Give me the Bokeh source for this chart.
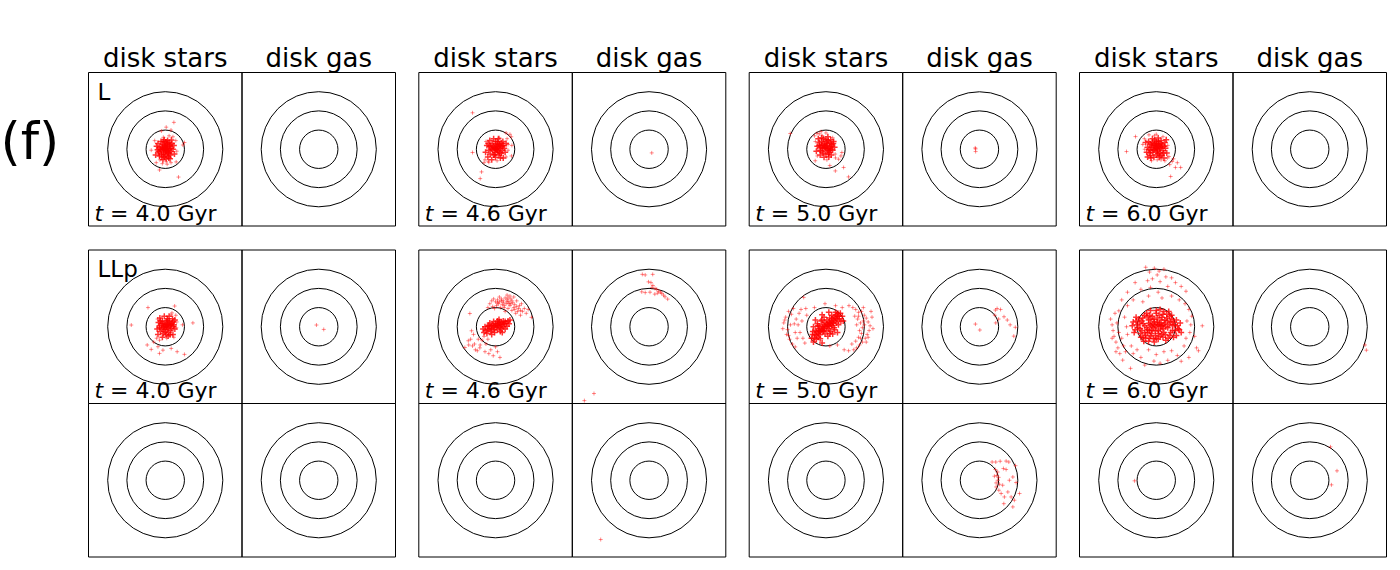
from bokeh.plotting import figure
from bokeh.models import Range1d
from bokeh.embed import file_html
from bokeh.resources import INLINE
from bokeh.core.properties import value

# ---------------- data (panel units: circles at r = 1, 2, 3) ----------------
TIMES = ["4.0", "4.6", "5.0", "6.0"]
COLUMN_TITLES = ["disk stars", "disk gas"]
ROW_LABELS = ["L", "LLp"]
RADII = [1.0, 2.0, 3.0]

# ---- row "L", disk stars: dense core + sparse halo
L40_CORE = [
    (0.00, 0.05), (0.10, 0.12), (-0.12, 0.02), (0.05, -0.10), (-0.05, 0.20), (0.18, -0.05), (-0.20, -0.08), (0.08, 0.28),
    (-0.15, 0.25), (0.25, 0.15), (-0.28, 0.10), (0.12, -0.22), (-0.08, -0.25), (0.30, -0.12), (-0.32, -0.20), (0.02, 0.38),
    (0.20, 0.35), (-0.22, 0.40), (0.35, 0.30), (-0.38, 0.30), (0.40, 0.00), (-0.40, -0.02), (0.15, -0.38), (-0.18, -0.40),
    (0.28, -0.30), (-0.30, -0.35), (0.05, -0.48), (-0.05, 0.50), (0.45, 0.20), (-0.45, 0.15), (0.00, -0.30), (0.22, 0.02),
    (-0.02, 0.12), (0.12, 0.45), (-0.12, -0.55), (0.32, 0.48), (0.48, -0.25), (-0.50, -0.30), (0.25, -0.50),
    (0.02, 0.00), (-0.03, 0.08), (0.08, 0.03), (-0.08, -0.02), (0.04, -0.05), (0.12, 0.20), (-0.15, 0.12), (0.15, -0.15),
    (-0.10, -0.15), (0.00, 0.18), (0.20, -0.20), (-0.25, 0.00), (0.10, 0.32), (-0.05, -0.40), (0.25, 0.25), (-0.20, -0.28),
    (0.30, 0.05), (-0.10, 0.40), (0.18, -0.45), (-0.35, -0.10),
]
L40_HALO = [
    (-0.28, -0.55), (0.05, -0.65), (0.55, 0.45), (-0.15, -0.75), (0.10, -0.78), (0.30, -0.70), (0.60, -0.10), (-0.55, 0.45),
    (0.40, 0.65), (0.20, 0.70), (-0.10, 0.62),
    (0.45, 1.40), (0.05, 1.15), (-0.20, 0.95), (0.30, 1.00), (1.00, 0.35), (0.92, 0.22), (-0.73, -0.05), (-0.30, -1.08),
    (0.69, -1.45), (-0.47, -0.70), (0.57, -0.66),
]
L46_CORE = [
    (0.05, 0.00), (0.15, 0.10), (-0.08, 0.08), (0.12, -0.12), (-0.15, -0.05), (0.25, 0.02), (-0.25, 0.12), (0.02, 0.25),
    (0.20, 0.28), (-0.18, 0.30), (0.35, 0.18), (-0.35, -0.05), (0.30, -0.22), (-0.05, -0.28), (-0.28, -0.25), (0.10, 0.40),
    (0.45, 0.05), (-0.45, 0.20), (0.00, -0.42), (0.38, 0.40), (-0.30, 0.45), (0.25, -0.45), (-0.40, -0.40), (0.50, -0.15),
    (0.55, 0.30), (-0.52, -0.15), (0.15, 0.55), (-0.10, 0.55), (0.40, -0.45), (-0.20, -0.55),
    (0.05, 0.12), (-0.02, -0.15), (0.18, -0.30), (-0.12, 0.18), (0.28, 0.15), (0.08, 0.05), (0.00, 0.02), (0.10, -0.05),
    (-0.05, 0.05), (0.22, 0.20), (-0.20, 0.00), (0.35, -0.05), (0.12, 0.28), (-0.10, -0.30), (0.30, 0.32), (-0.30, 0.15),
    (0.42, 0.20), (0.00, 0.40), (0.20, -0.18), (-0.38, 0.30),
]
L46_HALO = [
    (0.60, 0.55), (-0.50, 0.40), (0.08, -0.60), (-0.55, -0.55), (0.65, -0.05), (-0.60, -0.70), (0.55, -0.40), (0.20, 0.60),
    (-0.35, -0.68), (0.65, 0.25),
    (-1.20, 1.90), (-1.20, -0.17), (-0.73, -1.18), (-0.80, -1.53), (0.75, 0.78), (0.82, 0.65), (0.83, -0.35),
    (-0.38, -0.62), (0.55, 0.85), (0.85, 0.20),
]
L50_CORE = [
    (-0.05, 0.10), (0.05, 0.20), (-0.15, 0.05), (0.10, -0.05), (-0.10, 0.28), (0.22, 0.12), (-0.25, 0.18), (0.02, 0.38),
    (0.18, -0.15), (-0.20, -0.12), (0.30, 0.25), (-0.35, 0.35), (0.12, 0.45), (-0.30, -0.05), (0.35, -0.05), (-0.12, 0.55),
    (0.25, 0.50), (-0.40, 0.55), (0.00, -0.25), (-0.45, 0.15), (0.40, 0.40), (0.10, 0.65), (-0.50, -0.10),
    (0.28, -0.30), (-0.30, -0.30), (0.45, 0.10), (0.15, -0.40), (-0.10, -0.42),
    (-0.05, 0.05), (0.08, 0.30), (-0.22, 0.42), (0.20, 0.32), (0.00, 0.12), (0.05, 0.02), (-0.08, 0.18), (0.15, 0.05),
    (-0.18, 0.25), (0.25, 0.00), (-0.28, 0.08), (0.00, 0.50), (0.30, 0.15), (-0.15, -0.20), (0.12, -0.25), (-0.35, 0.20),
    (0.38, 0.30), (-0.22, 0.60), (0.20, -0.05),
]
L50_HALO = [
    (-0.20, 0.70), (-0.55, 0.40), (-0.35, 0.80), (0.00, 0.85), (-0.60, 0.70), (0.48, -0.25), (0.35, 0.60), (-0.45, -0.35),
    (0.05, -0.55), (0.50, -0.45), (-0.25, 0.92),
    (-1.86, 0.82), (0.83, -0.17), (0.66, -0.52), (0.49, -1.13), (1.18, -1.44), (0.92, -0.95), (-0.47, 0.83),
    (-0.56, -0.60), (0.78, -0.35), (0.20, -0.85),
]
L60_CORE = [
    (0.00, 0.05), (0.10, 0.15), (-0.10, 0.00), (0.08, -0.10), (-0.12, 0.20), (0.22, 0.05), (-0.22, 0.10), (0.02, 0.30),
    (0.18, -0.18), (-0.18, -0.15), (0.32, 0.22), (-0.32, 0.28), (0.12, 0.40), (-0.30, -0.05), (0.35, -0.08), (-0.08, 0.48),
    (0.25, 0.45), (-0.40, 0.40), (0.00, -0.30), (-0.45, 0.10), (0.45, 0.35), (-0.20, 0.55), (0.10, 0.58), (-0.50, -0.15),
    (0.30, -0.30), (-0.30, -0.32), (0.48, 0.05), (-0.55, 0.35), (0.15, -0.42), (-0.12, -0.42), (0.40, -0.45), (0.55, -0.20),
    (-0.45, -0.40), (0.52, 0.50), (-0.05, 0.12), (0.05, -0.02), (0.15, 0.28), (-0.20, 0.35), (0.28, 0.12), (-0.35, -0.20),
    (0.05, 0.05), (-0.02, 0.20), (0.18, 0.08), (-0.15, -0.05), (0.08, -0.22), (0.25, 0.30), (-0.25, 0.22), (0.38, -0.20),
    (-0.38, 0.00), (0.00, 0.40), (0.20, -0.35), (-0.10, 0.30), (0.42, 0.15), (-0.28, -0.45), (0.10, 0.25),
]
L60_HALO = [
    (0.05, -0.55), (0.45, -0.60), (-0.60, 0.00), (0.35, 0.65), (-0.25, -0.60), (0.60, 0.20), (-0.10, 0.70), (0.25, -0.55),
    (0.58, -0.45), (-0.62, 0.55),
    (0.75, -1.42), (1.00, -0.95), (1.27, -0.95), (0.83, -0.64), (0.66, -0.38), (1.10, -0.70), (-1.55, -0.12),
    (-1.08, 0.66), (-0.38, 0.75), (0.00, 0.78), (0.70, -0.80), (0.90, -0.50), (-0.70, 0.25),
]
# ---- row "L", disk gas
L40_GAS = []
L46_GAS = [(0.14, -0.19)]
L50_GAS = [(-0.20, 0.02), (-0.20, -0.12), (-0.22, 0.07)]
L60_GAS = []

# ---- row "LLp" (upper), disk stars
LLP40_CORE = [
    (0.05, 0.00), (0.15, 0.10), (-0.05, 0.08), (0.10, -0.12), (-0.10, -0.05), (0.25, 0.05), (-0.20, 0.15), (0.05, 0.25),
    (0.20, 0.30), (-0.15, 0.30), (0.35, 0.20), (-0.30, -0.05), (0.28, -0.20), (0.00, -0.28), (-0.25, -0.25), (0.12, 0.42),
    (0.42, 0.02), (-0.35, 0.22), (0.05, -0.42), (0.38, 0.42), (-0.28, 0.45), (0.25, -0.42), (-0.38, -0.40), (0.50, -0.12),
    (0.50, 0.35), (-0.42, -0.12), (0.20, 0.55), (-0.05, 0.55), (0.40, -0.40), (-0.15, -0.55),
    (0.10, 0.12), (-0.02, -0.15), (0.18, -0.30), (-0.12, 0.15), (0.30, 0.12), (0.08, 0.02), (0.00, 0.10), (0.15, -0.02),
    (-0.08, 0.00), (0.22, 0.18), (-0.18, -0.12), (0.32, -0.08), (0.10, 0.32), (-0.10, -0.35), (0.40, 0.28), (-0.25, 0.30),
    (0.45, 0.10), (0.15, -0.48), (-0.30, 0.05),
]
LLP40_HALO = [
    (0.55, 0.60), (0.35, 0.72), (0.08, -0.60), (-0.45, -0.60), (0.58, -0.05), (-0.30, -0.70), (0.45, -0.55), (0.30, 0.62),
    (-0.40, 0.40), (0.60, 0.25),
    (-0.90, 1.00), (0.49, 1.08), (-1.77, 0.09), (1.44, 0.20), (-0.94, -0.95), (-0.73, -1.18), (-0.30, -1.39),
    (-0.12, -1.22), (0.62, -1.30), (1.00, -1.44), (-0.38, -1.04), (0.31, -1.13), (0.90, 0.10), (-0.60, -0.80),
]
LLP46_CORE = [
    (0.05, 0.00), (0.15, 0.05), (-0.10, -0.02), (0.25, 0.10), (-0.20, -0.08), (0.35, 0.12), (-0.30, -0.10), (0.45, 0.15),
    (-0.40, -0.15), (0.00, 0.15), (0.10, -0.15), (0.20, 0.25), (-0.15, 0.12), (0.30, -0.08), (-0.25, -0.25), (0.55, 0.20),
    (-0.50, -0.20), (0.40, 0.30), (-0.35, 0.08), (0.10, 0.30), (-0.05, -0.30), (0.60, 0.02), (-0.55, 0.00), (0.25, -0.25),
    (0.50, -0.12), (-0.45, -0.35), (0.65, 0.30), (-0.60, -0.30), (0.18, 0.38), (-0.10, 0.28), (0.70, 0.15), (-0.65, -0.12),
    (0.35, -0.30), (-0.20, -0.40), (0.08, 0.08), (-0.02, 0.05), (0.22, -0.05), (0.42, 0.00), (-0.30, 0.20), (0.75, 0.35),
    (0.12, 0.18), (-0.08, -0.15), (0.30, 0.22), (-0.22, 0.05), (0.50, 0.28), (-0.40, 0.02),
]
LLP46_HALO = [
    (-0.30, 1.20), (-0.20, 1.35), (-0.10, 1.45), (0.00, 1.30), (0.10, 1.40), (0.20, 1.55), (0.30, 1.45), (0.40, 1.35),
    (0.50, 1.50), (0.60, 1.40), (0.70, 1.30), (0.80, 1.45), (0.90, 1.25), (1.00, 1.15), (1.10, 1.05), (1.20, 0.95),
    (1.30, 0.85), (1.40, 0.80), (1.50, 0.95), (1.60, 0.70), (0.15, 1.20), (0.35, 1.15), (0.55, 1.20), (0.75, 1.10),
    (0.95, 1.00), (1.15, 0.80), (0.25, 1.00), (0.45, 1.00), (0.65, 0.95), (0.85, 0.85), (1.05, 0.70), (1.25, 1.10),
    (0.05, 1.10), (-0.15, 1.05), (0.60, 1.65), (0.95, 1.55), (1.35, 1.20), (1.70, 0.90), (1.87, 0.49), (1.30, 0.60),
    (-0.40, 1.00), (0.50, 0.80), (0.75, 1.60), (1.10, 1.35), (-0.05, 0.95), (0.40, 1.25), (0.70, 1.20), (0.20, 1.30),
    (0.85, 1.35), (1.00, 0.90), (0.30, 1.35), (0.60, 1.30), (0.45, 1.10), (0.80, 1.20), (0.10, 1.25), (0.65, 1.50),
    (-1.60, -1.08), (-1.42, -0.73), (-1.30, -0.65), (-1.10, -0.90), (-0.95, -1.25), (-0.82, -1.10), (-0.55, -1.30),
    (-0.35, -1.40), (-0.12, -1.51), (0.23, -1.60), (-1.05, -1.20), (-0.80, -0.95), (-1.25, -0.21), (-1.15, -0.40),
    (-0.90, -0.65), (-0.70, -0.70), (-0.50, -0.90), (-1.20, -1.00), (-0.60, -0.50), (-0.40, -0.65), (-1.40, -0.95),
    (-0.25, -1.20), (0.00, -1.05), (-1.34, 0.69), (0.10, -1.30),
]
LLP50_CORE = [
    (0.00, 0.00), (0.10, 0.10), (-0.10, -0.08), (0.20, 0.18), (-0.20, -0.15), (0.30, 0.28), (-0.30, -0.25), (0.40, 0.35),
    (-0.40, -0.35), (0.50, 0.45), (-0.50, -0.45), (0.15, -0.10), (-0.15, 0.12), (0.35, 0.05), (-0.35, 0.02), (0.25, -0.25),
    (-0.25, 0.30), (0.55, 0.20), (-0.55, -0.20), (0.60, 0.55), (-0.60, -0.60), (0.05, 0.35), (-0.05, -0.38), (0.45, -0.15),
    (-0.45, 0.15), (0.70, 0.40), (-0.70, -0.40), (0.30, 0.60), (-0.30, -0.62), (0.75, 0.70), (-0.65, -0.80), (0.10, -0.50),
    (-0.10, 0.50), (0.65, 0.10), (-0.65, 0.00), (0.85, 0.55), (0.50, 0.75), (-0.20, -0.85), (0.20, 0.45), (-0.40, -0.55),
    (0.05, 0.15), (-0.12, -0.22), (0.28, 0.10), (0.42, 0.52), (-0.38, -0.10), (0.60, -0.30), (0.90, 0.30), (-0.75, -0.60),
    (0.15, 0.75), (-0.55, 0.35),
    (0.08, 0.05), (-0.08, 0.02), (0.18, 0.02), (-0.18, -0.02), (0.25, 0.20), (-0.25, -0.20), (0.05, -0.20), (-0.05, 0.22),
    (0.38, 0.20), (-0.38, -0.22), (0.48, 0.30), (-0.48, -0.28), (0.20, -0.35), (-0.20, 0.35), (0.58, 0.40), (-0.58, -0.42),
    (0.32, 0.42), (-0.32, -0.42), (0.68, 0.55), (-0.68, -0.25), (0.15, 0.25), (-0.15, -0.25), (0.42, -0.05), (-0.42, 0.05),
    (0.55, 0.62), (-0.50, -0.65), (0.78, 0.30), (-0.20, 0.62), (0.35, -0.38), (0.62, 0.70),
]
LLP50_HALO = [
    (-2.20, 0.20), (-2.10, 0.50), (-1.95, 0.80), (-1.80, 0.65), (-1.70, 0.95), (-2.25, -0.10), (-2.05, -0.40),
    (-1.90, -0.65), (-1.75, -0.90), (-1.60, -1.05), (-1.55, 0.40), (-1.40, 0.70), (-1.30, 0.90), (-1.45, 0.10),
    (-1.35, -0.30), (-1.20, -0.60), (-1.10, -0.85), (-1.60, -0.30), (-1.85, 0.10), (-1.25, 0.30), (-1.00, 0.60),
    (-1.16, 1.53), (-1.05, 0.95), (-2.00, -0.15), (-2.15, 0.35), (-1.65, 0.15), (-1.95, -0.45), (-1.50, -0.60),
    (1.20, 1.10), (1.40, 1.00), (1.55, 0.90), (1.70, 0.75), (1.85, 0.80), (2.00, 0.60), (2.10, 0.45), (2.20, 0.25),
    (2.30, 0.05), (2.25, -0.20), (2.15, -0.40), (2.05, -0.60), (1.90, -0.80), (1.75, -0.95), (1.60, -1.10), (1.45, -1.20),
    (1.65, 0.40), (1.80, 0.20), (1.90, -0.05), (1.85, -0.35), (1.70, -0.55), (1.55, -0.75), (1.95, 0.30), (2.40, 0.50),
    (2.45, -0.10), (1.60, 0.10), (1.75, -0.20), (2.10, -0.80), (1.50, 0.55), (1.35, -0.90), (2.35, 0.80), (1.95, 1.00),
    (2.00, 0.10), (1.80, -0.60), (2.20, -0.55), (1.70, 0.55),
    (-0.05, 1.20), (0.50, 1.10), (0.85, 1.00), (0.95, -1.20), (1.18, -1.25), (0.20, -1.00), (0.60, -0.95), (-0.60, 1.00),
]
LLP60_CORE = [
    (0.00, 0.00), (0.15, 0.10), (-0.15, -0.05), (0.30, 0.05), (-0.30, 0.10), (0.10, -0.20), (-0.10, 0.25), (0.45, 0.20),
    (-0.45, -0.15), (0.25, 0.35), (-0.25, -0.35), (0.60, -0.05), (-0.60, 0.05), (0.40, -0.30), (-0.40, 0.35), (0.05, 0.45),
    (-0.05, -0.45), (0.75, 0.25), (-0.75, -0.20), (0.55, 0.45), (-0.55, -0.45), (0.85, -0.20), (-0.85, 0.20), (0.20, -0.50),
    (-0.20, 0.55), (0.95, 0.10), (-0.95, -0.05), (0.70, -0.45), (-0.70, 0.45), (0.35, 0.65), (-0.35, -0.60), (1.05, 0.35),
    (-1.05, 0.30), (0.00, 0.70), (0.10, -0.65), (1.15, -0.10), (-1.15, -0.30), (0.80, 0.60), (-0.80, -0.55), (0.50, -0.70),
    (-0.50, 0.70), (1.25, 0.20), (-1.25, 0.05), (0.90, -0.55), (-0.30, 0.85), (0.20, 0.90), (-0.10, -0.80), (0.65, 0.80),
    (-0.65, -0.75), (1.30, -0.30), (0.18, 0.20), (-0.18, 0.15), (0.35, -0.10), (-0.35, -0.20), (0.05, 0.25), (-0.05, -0.22),
    (0.60, 0.30), (-0.60, -0.30), (0.28, -0.38), (-0.28, 0.40),
    (0.08, 0.12), (-0.08, 0.08), (0.22, -0.12), (-0.22, -0.18), (0.38, 0.12), (-0.38, 0.18), (0.50, 0.00), (-0.50, -0.05),
    (0.68, 0.12), (-0.68, 0.15), (0.12, -0.35), (-0.12, 0.38), (0.48, -0.42), (-0.48, 0.52), (0.30, 0.50), (-0.30, -0.48),
    (0.82, 0.40), (-0.82, -0.35), (1.00, -0.20), (-1.00, 0.10), (0.15, 0.60), (-0.15, -0.62), (0.62, -0.60), (-0.62, 0.60),
    (1.10, 0.05), (-1.10, -0.15), (0.90, 0.25), (-0.90, 0.40), (0.40, 0.80), (-0.40, -0.75), (0.75, -0.30), (-0.75, 0.30),
    (1.20, -0.15), (-1.20, 0.25), (0.00, -0.60), (0.00, 0.85), (0.55, 0.65), (-0.55, -0.60), (1.05, -0.45), (-1.05, 0.50),
    (0.25, 0.05), (-0.25, 0.02), (0.45, 0.35), (-0.45, -0.30), (0.70, 0.55), (-0.70, -0.55), (0.85, 0.05), (-0.85, -0.10),
    (0.35, -0.55), (-0.35, 0.60),
]
LLP60_HALO = [
    (-0.55, 3.10), (-0.35, 2.85), (-0.10, 3.05), (0.15, 2.90), (0.40, 3.00), (0.50, 2.60), (-0.20, 2.50), (0.20, 2.35),
    (-0.45, 2.40), (0.05, 2.70), (0.80, 2.55), (1.00, 2.30), (1.30, 2.10), (1.55, 1.85), (-1.10, 2.30), (-1.50, 1.80),
    (-1.80, 1.40), (-0.80, 1.95), (0.60, 2.10), (-0.30, 2.05), (-1.20, 1.40), (-0.70, 1.30), (0.30, 1.50), (0.80, 1.60),
    (1.20, 1.40), (1.50, 1.20), (-0.40, 1.60), (0.10, 1.80), (-1.50, 1.10), (1.70, 0.90),
    (-2.38, 0.40), (-2.30, 0.10), (-2.25, -0.20), (-2.20, -0.50), (-2.10, -0.80), (-2.00, -1.10), (-1.90, -1.40),
    (-1.75, -1.74), (-2.15, 0.70), (-1.95, 0.83), (-2.05, 0.20), (-1.95, -0.30), (-1.80, -0.60), (-1.70, -1.00),
    (-1.60, -1.30), (-1.65, 0.50), (-1.55, 0.00), (-1.50, -0.40), (-2.30, -0.60), (-2.10, -1.30),
    (1.60, 0.30), (1.80, 0.10), (1.75, -0.30), (1.55, -0.60), (2.00, -0.50), (2.10, -1.10), (2.20, -1.25), (1.85, 0.55),
    (1.45, -1.00), (2.40, 0.05), (-1.20, -1.40), (-0.80, -1.60), (-0.40, -1.20), (0.00, -1.45), (0.40, -1.30),
    (0.80, -1.25), (1.10, -1.50), (-0.60, -2.00), (-1.30, -1.00), (0.60, -1.75), (-1.00, -1.20), (0.20, -1.90),
    (1.30, -1.80), (-1.34, -2.17), (-0.12, -1.79), (1.70, -1.60),
]
# ---- row "LLp" (upper), disk gas
LLP40_GAS = [(-0.12, 0.09), (0.26, -0.14)]
LLP46_GAS = [
    (-0.35, 2.73), (-0.20, 2.70), (0.19, 2.73), (-0.03, 2.34), (0.10, 2.30), (0.20, 2.15), (0.31, 2.00), (0.40, 1.95),
    (0.50, 1.85), (0.60, 1.80), (0.66, 1.74), (0.75, 1.65), (0.83, 1.56), (0.97, 1.44), (-0.38, 1.82), (-0.20, 1.78),
    (0.05, 1.80), (0.30, 1.70), (0.45, 1.75), (0.15, 2.05), (-2.87, -3.48), (-3.37, -3.85),
]
LLP50_GAS = [
    (0.83, 0.87), (0.92, 0.95), (1.10, 0.90), (0.80, 0.60), (1.28, 0.52), (1.45, 0.35), (0.85, 0.20), (-0.21, 0.14),
    (0.02, -0.17), (1.87, -0.03), (1.79, -0.49), (1.60, 0.10), (1.00, 0.40),
]
LLP60_GAS = [(2.88, -0.95), (2.95, -1.22)]

# ---- row "LLp" (lower)
LLP46_LOW_GAS = [(-2.52, -3.09)]
LLP50_LOW_GAS = [
    (0.66, 0.95), (0.85, 0.95), (1.08, 0.99), (1.39, 1.00), (1.53, 0.95), (1.88, 0.76), (1.25, 0.61), (1.39, 0.56),
    (1.74, 0.17), (1.56, 0.00), (0.95, 0.43), (0.83, 0.56), (0.78, 0.21), (0.95, 0.00), (1.04, -0.21), (1.21, -0.26),
    (0.87, -0.35), (1.01, -0.52), (1.13, -0.69), (1.30, -0.87), (1.48, -0.61), (1.65, -0.87), (2.09, -0.69),
    (1.82, -1.04), (1.74, -1.39), (1.27, -1.22), (1.91, -0.12), (0.87, -0.14), (0.90, 0.25), (1.00, 0.15),
]
LLP60_LOW_STARS = [(-1.13, -0.03)]
LLP60_LOW_GAS = [(1.08, 1.74), (1.42, 0.49), (1.13, -0.24)]

# (group, row, 0 = stars / 1 = gas, dense points, sparse points)
PANELS = [
    (0, 0, 0, L40_CORE, L40_HALO), (0, 0, 1, [], L40_GAS),
    (1, 0, 0, L46_CORE, L46_HALO), (1, 0, 1, [], L46_GAS),
    (2, 0, 0, L50_CORE, L50_HALO), (2, 0, 1, [], L50_GAS),
    (3, 0, 0, L60_CORE, L60_HALO), (3, 0, 1, [], L60_GAS),
    (0, 1, 0, LLP40_CORE, LLP40_HALO), (0, 1, 1, [], LLP40_GAS),
    (1, 1, 0, LLP46_CORE, LLP46_HALO), (1, 1, 1, [], LLP46_GAS),
    (2, 1, 0, LLP50_CORE, LLP50_HALO), (2, 1, 1, [], LLP50_GAS),
    (3, 1, 0, LLP60_CORE, LLP60_HALO), (3, 1, 1, [], LLP60_GAS),
    (0, 2, 0, [], []), (0, 2, 1, [], []),
    (1, 2, 0, [], []), (1, 2, 1, [], LLP46_LOW_GAS),
    (2, 2, 0, [], []), (2, 2, 1, [], LLP50_LOW_GAS),
    (3, 2, 0, [], LLP60_LOW_STARS), (3, 2, 1, [], LLP60_LOW_GAS),
]

# ---------------- layout ----------------
W, H = 1392, 562
GROUP_LEFT = [88.0, 418.3, 748.7, 1079.0]
ROW_TOP = [72.0, 249.5, 403.0]
PW = 153.5
FONT = value("DejaVu Sans")

p = figure(width=W, height=H, x_range=Range1d(0, W), y_range=Range1d(H, 0),
           output_backend="svg", toolbar_location=None, min_border=0,
           x_axis_location=None, y_axis_location=None)
p.grid.visible = False
p.outline_line_color = None
p.background_fill_color = "white"
p.border_fill_color = "white"

for g, r, k, core, halo in PANELS:
    x0 = GROUP_LEFT[g] + k * PW
    y0 = ROW_TOP[r]
    sub = p.subplot(x_source=Range1d(-4, 4), y_source=Range1d(-4, 4),
                    x_target=Range1d(x0, x0 + PW), y_target=Range1d(y0 + PW, y0))
    sub.quad(left=[-4], right=[4], bottom=[-4], top=[4], fill_color=None,
             line_color="black", line_width=1)
    sub.circle(x=[0] * len(RADII), y=[0] * len(RADII), radius=RADII,
               fill_color=None, line_color="black", line_width=1)
    if halo:
        sub.scatter(x=[a for a, b in halo], y=[b for a, b in halo], marker="cross", size=4,
                    line_color="red", line_alpha=0.45, line_width=1)
    if core:
        sub.scatter(x=[a for a, b in core], y=[b for a, b in core], marker="cross", size=6,
                    line_color="red", line_alpha=0.8, line_width=1.5)

# column titles
for g in range(4):
    for k in range(2):
        p.text(x=[GROUP_LEFT[g] + (k + 0.5) * PW], y=[57.5], text=[COLUMN_TITLES[k]],
               text_font=FONT, text_font_size="26px", text_align="center",
               text_baseline="alphabetic", text_color="black")

# time labels
for g in range(4):
    for r in range(2):
        bx = GROUP_LEFT[g] + 6
        by = ROW_TOP[r] + PW - 12.8
        p.text(x=[bx], y=[by], text=["t"], text_font=FONT, text_font_style="italic",
               text_font_size="22px", text_baseline="alphabetic", text_color="black")
        p.text(x=[bx + 15.6], y=[by], text=["= " + TIMES[g] + " Gyr"], text_font=FONT,
               text_font_size="22px", text_baseline="alphabetic", text_color="black")

# row labels
for r in range(2):
    p.text(x=[GROUP_LEFT[0] + 9], y=[ROW_TOP[r] + 19.2], text=[ROW_LABELS[r]], text_font=FONT,
           text_font_size="23px", text_baseline="alphabetic", text_color="black")

# panel letter
p.text(x=[0], y=[140], text=["(f)"], text_font=FONT, text_font_size="52px",
       text_baseline="alphabetic", text_color="black")

open("out.html", "w").write(file_html(p, INLINE))
